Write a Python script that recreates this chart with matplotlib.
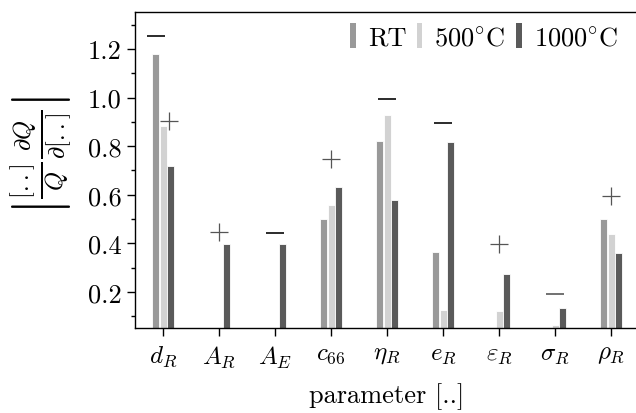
import matplotlib
matplotlib.use("Agg")
import matplotlib.pyplot as plt
import numpy as np
from matplotlib.patches import Patch
from matplotlib.ticker import MultipleLocator, FormatStrFormatter

plt.rcParams["font.family"] = "serif"
plt.rcParams["font.serif"] = ["cmr10", "DejaVu Serif"]
plt.rcParams["mathtext.fontset"] = "cm"
plt.rcParams["axes.formatter.use_mathtext"] = True

params = [r"$d_R$", r"$A_R$", r"$A_E$", r"$c_{66}$", r"$\eta_R$",
          r"$e_R$", r"$\varepsilon_R$", r"$\sigma_R$", r"$\rho_R$"]
series = ["RT", r"500$^{\circ}$C", r"1000$^{\circ}$C"]
rt = [1.18, 0.0, 0.0, 0.50, 0.82, 0.365, 0.0, 0.0, 0.50]
t500 = [0.884, 0.0, 0.0, 0.558, 0.928, 0.126, 0.122, 0.064, 0.439]
t1000 = [0.72, 0.398, 0.398, 0.631, 0.579, 0.816, 0.273, 0.133, 0.360]

# sign markers: (parameter index, height, sign)
sign_idx = [0, 0, 1, 2, 3, 4, 5, 6, 7, 8]
sign_val = [1.252, 0.905, 0.447, 0.442, 0.747, 0.994, 0.894, 0.398, 0.192, 0.596]
sign_kind = ["-", "+", "+", "-", "+", "-", "-", "+", "-", "+"]
sign_dx = [-0.12, 0.10, 0, 0, 0, 0, 0, 0, 0, 0]

colors = ["#999999", "#d2d2d2", "#5a5a5a"]

fig = plt.figure(figsize=(6.36, 4.14), dpi=100)
ax = fig.add_axes([135 / 636, 85 / 414, 504 / 636, 316 / 414])

x = np.arange(len(params))
offsets = [-0.13, 0.0, 0.13]
for vals, off, c in zip([rt, t500, t1000], offsets, colors):
    ax.bar(x + off, vals, width=0.125, color=c, edgecolor="white",
           linewidth=0.6, zorder=2)

for i, v, s, dx in zip(sign_idx, sign_val, sign_kind, sign_dx):
    if s == "-":
        col = "#666666" if i == 7 else "#1a1a1a"
        ax.plot(i + dx, v, marker="_", ms=13, mew=1.3, color=col, zorder=3)
    else:
        ax.plot(i + dx, v, marker="+", ms=13, mew=0.9, color="#555555", zorder=3)

ax.set_xlim(-0.5, 8.5)
ax.set_ylim(0.052, 1.352)
ax.set_xticks(x)
ax.set_xticklabels(params, fontsize=18)
ax.yaxis.set_major_locator(MultipleLocator(0.2))
ax.yaxis.set_minor_locator(MultipleLocator(0.1))
ax.yaxis.set_major_formatter(FormatStrFormatter("%.1f"))
ax.tick_params(axis="y", labelsize=19, direction="out", length=6, width=1)
ax.tick_params(axis="y", which="minor", length=3, width=1)
ax.tick_params(axis="x", direction="out", length=6, width=1, pad=5)
for sp in ax.spines.values():
    sp.set_linewidth(1.0)

ax.set_xlabel("parameter [..]", fontsize=19, labelpad=9)
fig.text(42 / 636, 1 - 156 / 414,
         r"$\left|\frac{[..]}{Q}\frac{\partial Q}{\partial [..]}\right|$",
         rotation=90, fontsize=25, ha="center", va="center")

handles = [Patch(facecolor=c, edgecolor="none") for c in colors]
ax.legend(handles, series, loc="upper right", bbox_to_anchor=(0.99, 1.015),
          ncol=3, frameon=False, fontsize=19, handlelength=0.22,
          handleheight=1.1, handletextpad=0.45, columnspacing=0.4,
          borderaxespad=0.2)

fig.savefig("out.png", dpi=100)
